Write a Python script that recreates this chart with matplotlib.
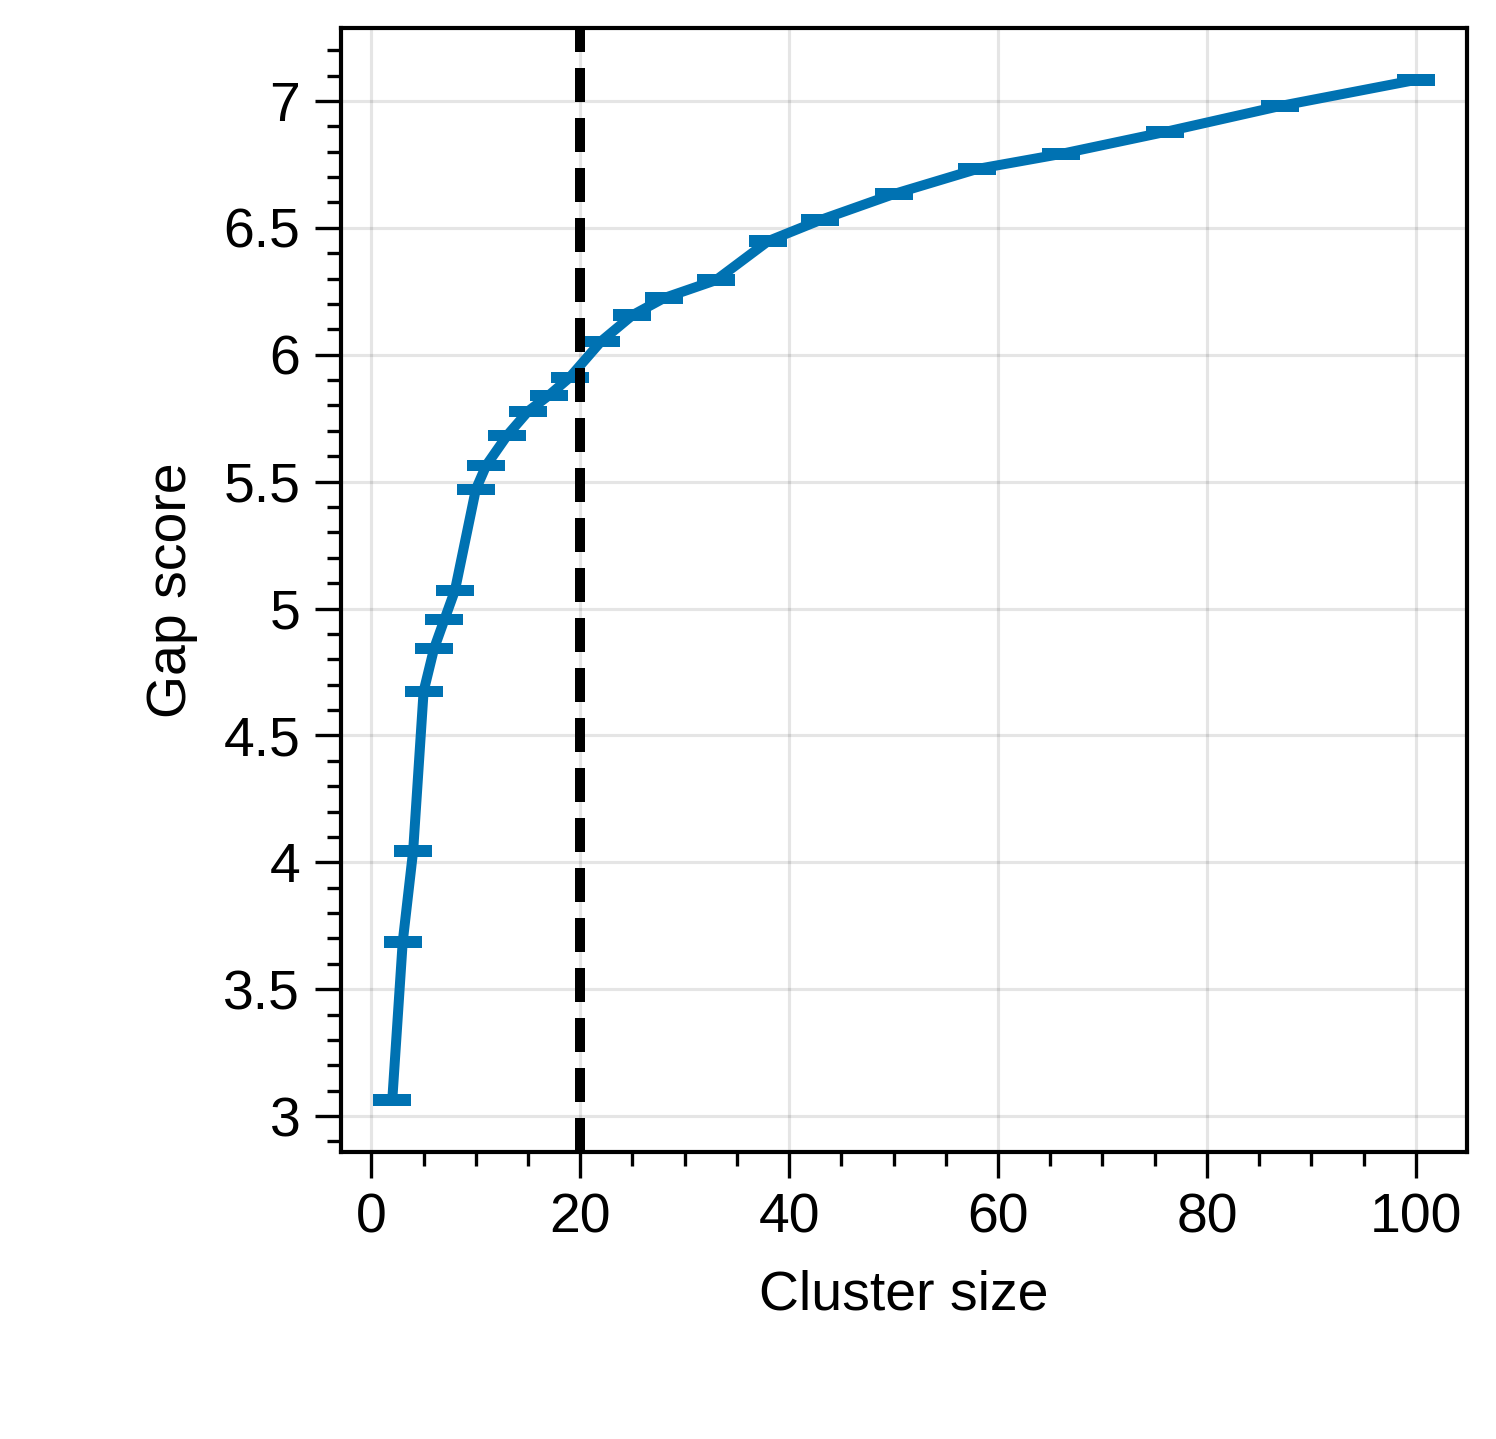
import numpy as np
import matplotlib
matplotlib.use('Agg')
import matplotlib.pyplot as plt
from matplotlib.ticker import MultipleLocator

# Cluster sizes and gap scores
cluster_size = [2, 3, 4, 5, 6, 7, 8, 10, 11, 13, 15, 17, 19, 22, 25, 28,
                33, 38, 43, 50, 58, 66, 76, 87, 100]
gap_score = [3.063, 3.686, 4.045, 4.673, 4.842, 4.957, 5.071, 5.469, 5.564,
             5.682, 5.777, 5.840, 5.911, 6.053, 6.156, 6.223, 6.294, 6.448,
             6.531, 6.633, 6.732, 6.791, 6.878, 6.980, 7.083]
gap_err = [0.003, 0.003, 0.003, 0.003, 0.003, 0.003, 0.003, 0.003, 0.003,
           0.003, 0.003, 0.003, 0.003, 0.003, 0.003, 0.003, 0.003, 0.003,
           0.003, 0.003, 0.003, 0.003, 0.003, 0.003, 0.003]
chosen_size = 20

plt.rcParams['font.family'] = ['Liberation Sans', 'DejaVu Sans']
plt.rcParams['font.size'] = 13.3

fig = plt.figure(figsize=(1496 / 300, 1439 / 300), dpi=300)
ax = fig.add_axes([0.228, 0.1995, 0.7526, 0.781])

ax.errorbar(cluster_size, gap_score, yerr=gap_err, color='#0072B2', lw=2.4,
            capsize=4.6, capthick=2.4, elinewidth=2.4, zorder=3)
ax.axvline(chosen_size, color='black', lw=2.4, dashes=(3.4, 1.6), zorder=4)

ax.set_xlabel('Cluster size', labelpad=6)
ax.set_ylabel('Gap score', labelpad=6)

ax.xaxis.set_major_locator(MultipleLocator(20))
ax.xaxis.set_minor_locator(MultipleLocator(5))
ax.yaxis.set_major_locator(MultipleLocator(0.5))
ax.yaxis.set_minor_locator(MultipleLocator(0.1))
ax.yaxis.set_major_formatter(plt.FuncFormatter(lambda v, p: f'{v:g}'))

ax.tick_params(which='major', length=6.2, width=0.8, pad=3.6)
ax.tick_params(which='minor', length=3.3, width=0.8)
for sp in ax.spines.values():
    sp.set_linewidth(1.0)

ax.grid(True, which='major', color='black', alpha=0.1, lw=0.75)
ax.set_axisbelow(True)

fig.savefig('out.png', dpi=300)
